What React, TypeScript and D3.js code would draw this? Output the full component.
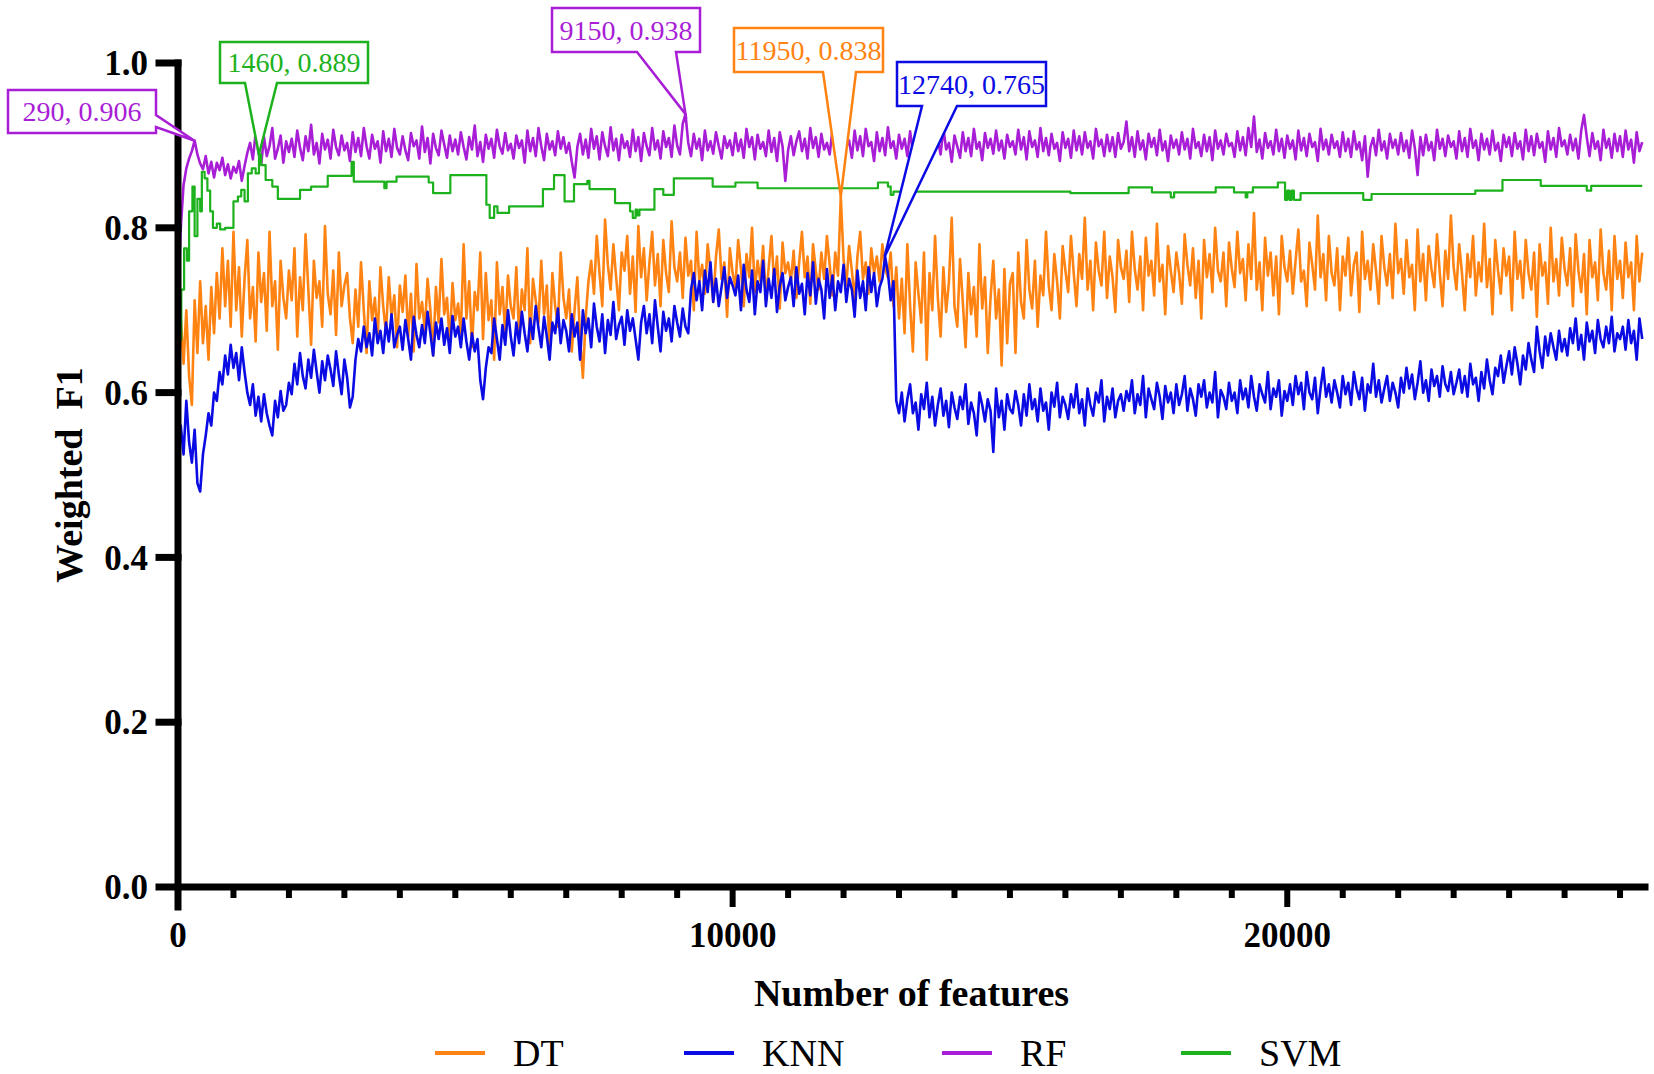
import React from "react";
import * as d3 from "d3";

// ---------- DATA ----------
const seriesNames = ["DT", "KNN", "RF", "SVM"];
const xTickValues = [0, 10000, 20000];
const yTickValues = [0, 0.2, 0.4, 0.6, 0.8, 1.0];
const xMinorStep = 1000;
const xMax = 26450;

// Weighted F1 (x1000) at 10, 50, 100, 150 ... 26400 features
const rfValues = [730,
800,852,872,884,893,906,889,878,871,887,866,880,861,879,870,885,864,877,860,874,
867,881,857,875,891,903,883,915,891,877,910,887,899,921,884,896,912,879,905,892,
908,886,918,897,882,911,893,925,889,903,878,914,895,907,884,919,898,888,912,894,
903,881,916,892,909,887,921,899,884,913,896,905,879,917,893,908,886,920,897,889,
911,894,882,915,899,906,884,923,892,909,878,914,897,888,918,901,885,912,893,907,
889,916,898,883,910,895,924,887,904,880,913,896,908,885,919,899,890,915,894,902,
884,912,897,906,879,918,893,909,887,921,899,882,914,895,905,888,917,896,910,891,
903,880,861,898,914,889,907,885,920,896,911,883,916,899,887,922,894,908,882,913,
897,905,886,919,893,910,881,915,899,888,921,895,906,884,917,898,909,886,924,900,
889,926,938,903,887,914,896,908,882,918,894,905,890,916,899,884,911,897,906,888,
915,893,907,885,920,898,910,883,913,896,904,887,918,892,909,881,916,899,857,894,
911,888,905,917,893,908,884,921,897,910,886,914,895,903,889,919,896,907,882,915,
898,906,885,918,894,911,887,920,899,904,881,916,893,909,888,922,897,905,884,913,
896,908,887,917,892,910,883,919,898,905,886,914,894,907,889,921,895,903,880,912,
899,885,916,893,909,887,920,896,904,882,915,897,908,890,918,894,906,884,913,898,
905,889,919,895,910,883,917,898,906,886,921,893,909,888,914,896,903,881,916,897,
908,885,918,894,911,889,916,897,905,884,920,899,907,887,913,893,910,886,915,896,
904,929,893,910,886,917,895,906,883,914,898,909,888,919,894,905,881,912,897,907,
889,916,895,908,884,920,897,904,887,913,893,910,882,918,896,906,889,914,899,903,
886,917,894,910,888,921,898,935,892,907,884,915,897,905,889,919,893,908,885,912,
896,906,883,918,894,909,887,914,898,904,881,920,895,907,889,913,897,905,886,916,
893,908,886,917,895,904,882,911,862,898,909,888,919,894,905,884,914,897,907,889,
915,893,906,885,918,897,864,910,888,913,894,904,882,919,896,908,887,912,898,905,
884,917,893,909,886,920,897,906,882,914,895,908,889,918,894,903,881,913,898,910,
887,915,896,905,883,919,893,911,888,914,897,904,880,917,895,909,886,921,899,906,
889,913,894,908,884,918,937,910,887,915,896,905,882,919,897,908,885,914,893,911,
886,918,895,907,879,916,893,904];

const dtValues = [610,
690,635,700,620,585,712,648,735,660,705,640,728,672,745,690,775,705,760,680,795,
700,752,668,738,785,690,728,662,770,710,745,675,795,705,735,652,760,715,690,748,
712,775,668,740,700,792,725,658,760,715,735,680,802,720,695,748,670,770,705,730,
745,690,660,725,680,758,700,648,735,688,715,665,752,705,672,740,692,718,655,730,
698,742,668,720,650,756,690,710,675,738,700,645,728,685,762,695,715,660,733,688,
708,672,780,690,735,655,722,700,770,665,745,688,712,640,758,695,728,670,742,705,
690,752,668,725,700,775,660,738,712,685,760,695,730,650,745,705,680,770,715,690,
725,650,700,740,665,618,690,735,760,720,790,745,705,810,755,725,780,740,700,770,
748,790,720,765,698,802,740,775,712,758,795,730,768,705,785,745,722,808,752,735,
770,715,788,742,760,700,795,735,755,720,780,748,710,765,798,738,758,692,775,745,
728,785,750,705,768,740,800,722,760,735,778,712,752,790,730,765,702,782,745,758,
735,772,715,758,795,740,765,708,780,748,725,770,738,790,755,718,770,742,838,762,
730,778,748,712,765,795,738,758,720,775,745,765,735,780,750,740,770,705,752,690,
738,672,780,705,650,758,720,685,770,640,745,700,790,715,668,752,698,735,812,705,
680,762,710,655,745,695,728,668,780,702,740,648,715,760,690,725,633,750,660,732,
745,648,770,710,690,785,725,702,760,680,742,718,795,730,700,768,735,690,778,748,
722,790,745,705,768,738,812,725,760,700,782,748,730,795,715,765,740,698,785,752,
738,772,710,795,750,725,765,700,788,742,760,718,805,735,755,695,778,748,722,770,
745,708,792,755,730,775,715,760,690,785,740,768,722,800,748,735,770,705,782,750,
728,795,745,762,712,780,738,818,725,758,700,788,742,770,718,765,695,790,752,735,
772,720,760,798,735,748,705,782,755,725,815,740,768,712,790,745,730,775,700,765,
742,788,718,755,770,698,795,738,760,725,780,748,708,790,752,730,768,715,805,745,
762,720,785,740,755,700,798,735,768,712,778,750,728,792,745,705,772,738,815,752,
725,780,745,700,768,740,790,718,758,735,805,728,762,695,785,748,720,775,742,765,
700,795,738,760,715,785,745,725,770,692,780,742,758,708,800,735,762,718,788,750,
730,775,705,792,748,722,768,695,785,740,758,712,798,745,725,772,700,790,738,760,
715,782,740,758,700,790,735,770];

const knnValues = [530,
560,525,590,540,515,555,490,480,525,548,575,560,600,590,625,610,645,622,658,630,
648,615,655,625,600,585,610,572,595,565,598,575,560,548,590,570,602,578,585,612,
598,635,610,648,620,605,640,618,652,625,600,638,615,645,628,608,650,622,598,640,
618,582,595,640,665,650,680,655,672,645,690,660,675,648,685,662,695,655,670,680,
652,688,665,640,692,670,655,682,660,698,672,645,685,665,690,658,678,648,693,668,
680,655,690,662,640,672,650,665,615,592,630,655,648,690,665,640,682,658,700,668,
645,685,660,698,672,650,690,665,705,678,655,692,668,640,685,672,702,660,688,675,
650,695,668,685,640,700,672,690,655,708,680,662,695,648,688,670,710,665,682,692,
658,700,675,690,665,640,685,705,672,695,660,712,680,650,698,675,690,662,705,685,
668,702,680,672,725,745,712,735,700,748,722,758,710,738,705,728,752,715,740,730,
718,742,700,755,725,710,748,695,735,722,760,705,738,715,750,698,730,745,712,728,
740,705,752,720,732,695,745,718,758,708,738,725,690,750,715,742,700,735,722,755,
710,738,725,692,748,715,735,700,752,722,745,705,728,738,765,745,712,735,590,575,
600,565,592,610,575,588,555,598,580,612,570,595,560,585,605,572,590,558,600,582,
568,595,580,610,562,588,575,548,600,585,565,592,578,528,605,570,590,555,598,580,
575,602,585,560,598,572,610,580,592,565,605,578,588,555,600,583,612,570,595,585,
568,598,582,610,575,592,560,605,585,572,600,588,615,565,595,580,605,570,590,598,
578,602,590,615,575,598,585,620,570,605,592,580,612,595,568,608,588,600,575,610,
585,598,620,578,605,592,572,610,595,615,582,600,588,625,570,603,595,580,612,590,
600,575,615,592,605,582,620,595,578,610,598,588,625,580,605,595,615,572,602,590,
610,585,620,598,612,580,625,600,592,618,575,605,630,595,610,588,615,600,582,620,
598,612,585,625,605,592,618,578,610,600,635,595,615,588,605,620,590,612,600,582,
618,600,630,605,622,592,612,638,600,615,590,628,608,620,595,632,610,602,625,598,
612,628,600,620,595,635,610,618,590,625,605,640,615,598,630,620,645,612,632,650,
622,655,635,610,645,628,660,640,625,680,650,630,668,645,672,655,640,675,650,665,
645,678,660,690,652,670,640,685,662,675,648,688,665,655,680,660,692,650,672,665,
680,652,688,660,675,640,690,665];

// SVM is a step curve: feature count where each level starts, and its value
const svmX = [10,60,110,160,200,260,300,350,400,430,480,530,580,630,700,760,850,1000,1080,1140,
1200,1260,1330,1400,1460,1500,1580,1700,1800,2200,2400,2700,3130,3170,3720,3760,3940,4520,4600,4910,
5560,5620,5700,5760,5970,6580,6780,6970,7140,7380,7420,7880,8150,8200,8250,8280,8320,8590,8750,8940,
9640,10050,10450,12620,12800,12850,12900,14800,16090,17140,17560,17600,17900,17960,18710,19040,19250,19280,19380,19830,
19960,20000,20040,20080,20120,20240,21370,21520,23390,23880,24570,25400,25480,26400];
const svmY = [0.664,0.725,0.775,0.76,0.82,0.85,0.79,0.835,0.82,0.868,0.86,0.845,0.82,0.80,0.805,0.798,0.80,0.832,0.838,0.846,
0.832,0.866,0.872,0.866,0.889,0.876,0.858,0.85,0.835,0.846,0.85,0.863,0.88,0.856,0.848,0.856,0.862,0.855,0.842,0.864,
0.828,0.812,0.826,0.818,0.826,0.847,0.864,0.832,0.853,0.857,0.847,0.83,0.82,0.812,0.822,0.815,0.822,0.847,0.84,0.86,
0.85,0.855,0.848,0.855,0.85,0.84,0.844,0.844,0.842,0.849,0.843,0.843,0.837,0.843,0.849,0.843,0.837,0.843,0.849,0.855,
0.834,0.845,0.834,0.845,0.834,0.842,0.834,0.841,0.845,0.858,0.851,0.845,0.851,0.851];

// annotated maxima
const calloutSeries = ["RF", "SVM", "RF", "DT", "KNN"];
const calloutX = [290, 1460, 9150, 11950, 12740];
const calloutY = [0.906, 0.889, 0.938, 0.838, 0.765];

// ---------- STYLE / LAYOUT ----------
const colors: Record<string, string> = {
  DT: "#FF8312",
  KNN: "#0B0BE4",
  RF: "#A81ED6",
  SVM: "#1DB21D",
};
// callout boxes: [left, top, right, bottom, tailA, tailB, side]
const calloutBoxes: [number, number, number, number, number, number, string][] = [
  [8, 90, 156, 133, 115, 127, "right"],
  [220, 42, 368, 83, 245, 277, "bottom"],
  [552, 8, 700, 52, 637, 676, "bottom"],
  [734, 28, 883, 72, 823, 856, "bottom"],
  [897, 62, 1046, 106, 922, 957, "bottom"],
];
const legendPos = [435, 684, 942, 1181];

const W = 1654;
const H = 1074;
const FONT = "'Liberation Serif', 'Times New Roman', Times, serif";

function toXY(vals: number[]): [number, number][] {
  return vals.map((v, i) => [i === 0 ? 10 : i * 50, v / 1000]);
}

export default function App() {
  const x = d3.scaleLinear().domain([0, xMax]).range([178, 1645]);
  const y = d3.scaleLinear().domain([0, 1]).range([887, 63]);

  const line = d3
    .line<[number, number]>()
    .x((d) => x(d[0]))
    .y((d) => y(d[1]));
  const stepLine = d3
    .line<[number, number]>()
    .x((d) => x(d[0]))
    .y((d) => y(d[1]))
    .curve(d3.curveStepAfter);

  const seriesData: Record<string, [number, number][]> = {
    DT: toXY(dtValues),
    KNN: toXY(knnValues),
    RF: toXY(rfValues),
    SVM: svmX.map((v, i) => [v, svmY[i]] as [number, number]),
  };

  const minorTicks = d3.range(0, xMax, xMinorStep).filter((v) => !xTickValues.includes(v));

  const axisW = 7;

  return (
    <svg
      width={W}
      height={H}
      viewBox={`0 0 ${W} ${H}`}
      style={{ position: "absolute", left: 0, top: 0, background: "#fff" }}
    >
      <rect x={0} y={0} width={W} height={H} fill="#fff" />

      {/* series */}
      {seriesNames.map((s) => (
        <path
          key={s}
          d={(s === "SVM" ? stepLine : line)(seriesData[s]) || ""}
          fill="none"
          stroke={colors[s]}
          strokeWidth={s === "SVM" ? 2.2 : 2.6}
          strokeLinejoin="round"
        />
      ))}

      {/* axes */}
      <g stroke="#000" strokeLinecap="square">
        <line x1={x(0)} y1={y(1)} x2={x(0)} y2={y(0) + 20} strokeWidth={axisW} />
        <line x1={x(0) - 19} y1={y(0)} x2={x(xMax)} y2={y(0)} strokeWidth={axisW} />
        {yTickValues
          .filter((v) => v > 0)
          .map((v) => (
            <line key={v} x1={x(0) - 19} y1={y(v)} x2={x(0)} y2={y(v)} strokeWidth={axisW} />
          ))}
        {xTickValues
          .filter((v) => v > 0)
          .map((v) => (
            <line key={v} x1={x(v)} y1={y(0)} x2={x(v)} y2={y(0) + 20} strokeWidth={6} strokeLinecap="butt" />
          ))}
        {minorTicks.map((v) => (
          <line key={v} x1={x(v)} y1={y(0)} x2={x(v)} y2={y(0) + 11} strokeWidth={6} strokeLinecap="butt" />
        ))}
      </g>

      {/* tick labels */}
      <g fontFamily={FONT} fontWeight="bold" fontSize={35} fill="#000">
        {yTickValues.map((v) => (
          <text key={v} x={148} y={y(v)} dy="0.35em" textAnchor="end">
            {v.toFixed(1)}
          </text>
        ))}
        {xTickValues.map((v) => (
          <text key={v} x={x(v)} y={947} textAnchor="middle">
            {String(v)}
          </text>
        ))}
      </g>

      {/* axis titles */}
      <text
        x={(x(0) + x(xMax)) / 2}
        y={1006}
        textAnchor="middle"
        fontFamily={FONT}
        fontWeight="bold"
        fontSize={38}
      >
        Number of features
      </text>
      <text
        transform={`translate(82, ${(y(0) + y(1)) / 2}) rotate(-90)`}
        textAnchor="middle"
        fontFamily={FONT}
        fontWeight="bold"
        fontSize={38}
        style={{ whiteSpace: "pre" }}
      >
        {"Weighted  F1"}
      </text>

      {/* callouts */}
      {calloutBoxes.map((b, i) => {
        const [l, t, r, bt, a, bb, side] = b;
        const tx = x(calloutX[i]);
        const ty = y(calloutY[i]);
        const c = colors[calloutSeries[i]];
        const d =
          side === "right"
            ? `M${l},${t} H${r} V${a} L${tx},${ty} L${r},${bb} V${bt} H${l} Z`
            : `M${l},${t} H${r} V${bt} H${bb} L${tx},${ty} L${a},${bt} H${l} Z`;
        return (
          <g key={i}>
            <path d={d} fill="#fff" stroke={c} strokeWidth={2.5} strokeLinejoin="miter" />
            <text
              x={(l + r) / 2}
              y={(t + bt) / 2}
              dy="0.34em"
              textAnchor="middle"
              fontFamily={FONT}
              fontSize={28}
              fill={c}
            >
              {`${calloutX[i]}, ${calloutY[i].toFixed(3)}`}
            </text>
          </g>
        );
      })}

      {/* legend */}
      {seriesNames.map((s, i) => (
        <g key={s}>
          <line
            x1={legendPos[i]}
            x2={legendPos[i] + 50}
            y1={1053}
            y2={1053}
            stroke={colors[s]}
            strokeWidth={4}
          />
          <text x={legendPos[i] + 78} y={1066} fontFamily={FONT} fontSize={38} fill="#000">
            {s}
          </text>
        </g>
      ))}
    </svg>
  );
}
